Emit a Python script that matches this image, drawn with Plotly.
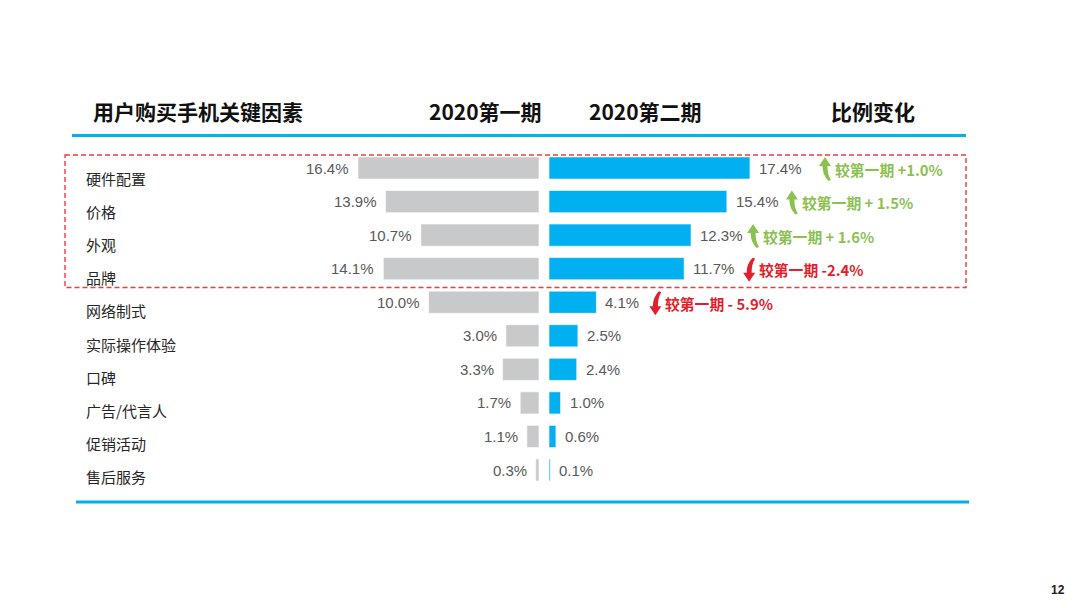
import plotly.graph_objects as go

# ---------------- data ----------------
categories = ["硬件配置", "价格", "外观", "品牌", "网络制式",
              "实际操作体验", "口碑", "广告/代言人", "促销活动", "售后服务"]
period1 = [16.4, 13.9, 10.7, 14.1, 10.0, 3.0, 3.3, 1.7, 1.1, 0.3]
period2 = [17.4, 15.4, 12.3, 11.7, 4.1, 2.5, 2.4, 1.0, 0.6, 0.1]
change_text = ["较第一期 +1.0%", "较第一期 + 1.5%", "较第一期 + 1.6%",
               "较第一期 -2.4%", "较第一期 - 5.9%"]
change_up = [True, True, True, False, False]
headers = ["用户购买手机关键因素", "2020第一期", "2020第二期", "比例变化"]
page_no = "12"

# ---------------- styles / layout helpers ----------------
W, H = 1080, 608
OFF = 8  # page body margin in the browser
GRAY = "#C8C9CB"
BLUE = "#00B0F0"
GREEN = "#8CC152"
RED = "#E31E2D"
CJK = "Noto Sans CJK SC"
LAT = "Liberation Sans, Arial"
arrow_gap = [75, 65, 62, 65, 59]   # px from bar end to arrow centre


def px(x):
    return (x - OFF) / W


def py(y):
    return 1 - (y - OFF) / H


row0, pitch = 168.0 - OFF, 302.0 / 9
left_zero = 539 - OFF
right_zero = 549 - OFF

fig = go.Figure()
fig.add_trace(go.Bar(y=categories, x=period1, orientation="h", xaxis="x", yaxis="y",
                     marker=dict(color=GRAY, line=dict(color="white", width=0.6)),
                     width=0.66, hoverinfo="x+y"))
fig.add_trace(go.Bar(y=categories, x=period2, orientation="h", xaxis="x2", yaxis="y",
                     marker=dict(color=BLUE, line=dict(color="white", width=0.6)),
                     width=0.66, hoverinfo="x+y"))

annotations = []
shapes = []

# value labels
for c, v in zip(categories, period1):
    annotations.append(dict(xref="x", yref="y", x=v, y=c, text=f"{v:.1f}%",
                            showarrow=False, xanchor="right", xshift=-7, yshift=0,
                            font=dict(family=LAT, size=15, color="#595959")))
for c, v in zip(categories, period2):
    annotations.append(dict(xref="x2", yref="y", x=v, y=c, text=f"{v:.1f}%",
                            showarrow=False, xanchor="left", xshift=7, yshift=0,
                            font=dict(family=LAT, size=15, color="#595959")))

# category labels
for i, c in enumerate(categories):
    annotations.append(dict(xref="paper", yref="y", x=px(84), y=c, text=c,
                            showarrow=False, xanchor="left", yshift=-10 + 0.35 * i,
                            font=dict(family=CJK, size=15, color="#262626")))

# change annotations with curved arrows
up_pts = [("M", -6, 3), ("L", 0, 12), ("L", 6, 3), ("L", 2.5, 3), ("Q", 2.5, -6), ("", 6, -11),
          ("L", 3.5, -12), ("Q", -2.5, -6), ("", -2.5, 3)]


def arrow_path(dx, up):
    sgn = 1 if up else -1
    parts = []
    for cmd, a, b in up_pts:
        tok = f"{a + dx:.1f},{sgn * b - 1:.1f}"
        parts.append(f"{cmd} {tok}" if cmd else tok)
    return " ".join(parts) + " Z"


for i, (t, up) in enumerate(zip(change_text, change_up)):
    col = GREEN if up else RED
    v = period2[i]
    annotations.append(dict(xref="x2", yref="y", x=v, y=categories[i], text=f"<b>{t}</b>",
                            showarrow=False, xanchor="left", xshift=arrow_gap[i] + 8, yshift=-1,
                            font=dict(family=CJK, size=14.8, color=col)))
    shapes.append(dict(type="path", xref="x2", yref="y", xsizemode="pixel", ysizemode="pixel",
                       xanchor=v, yanchor=i, path=arrow_path(arrow_gap[i], up),
                       fillcolor=col, line=dict(width=0)))

# headers
hdr_x = [198, 485, 645, 873]
for t, x in zip(headers, hdr_x):
    annotations.append(dict(xref="paper", yref="paper", x=px(x), y=py(111), text=f"<b>{t}</b>",
                            showarrow=False, xanchor="center", yanchor="middle",
                            font=dict(family=CJK, size=21, color="#111111")))

annotations.append(dict(xref="paper", yref="paper", x=px(1058), y=py(590), text=f"<b>{page_no}</b>",
                        showarrow=False, xanchor="center", yanchor="middle",
                        font=dict(family=LAT, size=12, color="#222222")))

# blue rules and dashed box
shapes.append(dict(type="line", xref="paper", yref="paper", x0=px(72), x1=px(966),
                   y0=py(135.5), y1=py(135.5), line=dict(color=BLUE, width=3)))
shapes.append(dict(type="line", xref="paper", yref="paper", x0=px(76), x1=px(969),
                   y0=py(502), y1=py(502), line=dict(color=BLUE, width=3)))
shapes.append(dict(type="rect", xref="paper", yref="paper", x0=px(65), x1=px(966),
                   y0=py(155), y1=py(287.5), line=dict(color="#F23A3A", width=1.4, dash="5px,3px"),
                   fillcolor="rgba(0,0,0,0)"))

fig.update_layout(
    width=W, height=H, margin=dict(l=0, r=0, t=0, b=0),
    paper_bgcolor="white", plot_bgcolor="white", showlegend=False,
    xaxis=dict(domain=[0, left_zero / W], range=[left_zero / 11.04, 0], visible=False,
               anchor="y", fixedrange=True),
    xaxis2=dict(domain=[right_zero / W, 1], range=[0, (W - right_zero) / 11.55], visible=False,
                anchor="y", fixedrange=True),
    yaxis=dict(domain=[0, 1], type="category", categoryarray=categories,
               range=[(H - row0) / pitch, -row0 / pitch], visible=False, fixedrange=True),
    annotations=annotations, shapes=shapes, bargap=0.3,
)

fig.write_html("out.html")
